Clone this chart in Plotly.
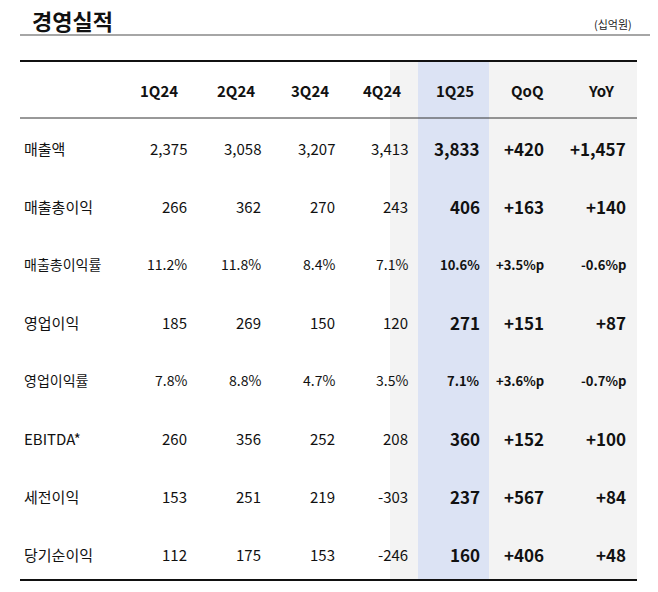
import plotly.graph_objects as go

headers = ["1Q24", "2Q24", "3Q24", "4Q24", "1Q25", "QoQ", "YoY"]
rows = ["매출액", "매출총이익", "매출총이익률", "영업이익", "영업이익률", "EBITDA*", "세전이익", "당기순이익"]
q1_24 = ["2,375", "266", "11.2%", "185", "7.8%", "260", "153", "112"]
q2_24 = ["3,058", "362", "11.8%", "269", "8.8%", "356", "251", "175"]
q3_24 = ["3,207", "270", "8.4%", "150", "4.7%", "252", "219", "153"]
q4_24 = ["3,413", "243", "7.1%", "120", "3.5%", "208", "-303", "-246"]
q1_25 = ["3,833", "406", "10.6%", "271", "7.1%", "360", "237", "160"]
qoq = ["+420", "+163", "+3.5%p", "+151", "+3.6%p", "+152", "+567", "+406"]
yoy = ["+1,457", "+140", "-0.6%p", "+87", "-0.7%p", "+100", "+84", "+48"]
cols = [q1_24, q2_24, q3_24, q4_24, q1_25, qoq, yoy]

col_right = [189, 263, 337, 410, 482, 546, 628]
col_center = [159, 236, 310, 382, 455, 527, 601]
font = "Noto Sans CJK KR"

fig = go.Figure()
shapes = [
    dict(type="rect", x0=390, x1=637, y0=62, y1=580, fillcolor="#f3f3f3", line_width=0, layer="below"),
    dict(type="rect", x0=418, x1=489, y0=62, y1=580, fillcolor="#dce3f4", line_width=0, layer="below"),
    dict(type="line", x0=20, x1=666, y0=35, y1=35, line=dict(color="#888", width=1.5)),
    dict(type="line", x0=20, x1=637, y0=61, y1=61, line=dict(color="#111", width=2)),
    dict(type="line", x0=20, x1=637, y0=118, y1=118, line=dict(color="#333", width=1)),
    dict(type="line", x0=20, x1=637, y0=580, y1=580, line=dict(color="#111", width=2)),
]
ann = [
    dict(x=30, y=20, text="<b>경영실적</b>", xanchor="left", font=dict(size=22, color="#111", family=font)),
    dict(x=634, y=24, text="(십억원)", xanchor="right", font=dict(size=11, color="#222", family=font)),
]
for h, c in zip(headers, col_center):
    ann.append(dict(x=c, y=90, text="<b>%s</b>" % h, xanchor="center", font=dict(size=15, color="#111", family=font)))
for i, r in enumerate(rows):
    y = 148 + 58 * i
    small = "률" in r
    ann.append(dict(x=22, y=y, text=r, xanchor="left", font=dict(size=15 if not small else 14, color="#111", family=font)))
    for j, col in enumerate(cols):
        v = col[i]
        bold = j >= 4
        size = 15
        if bold:
            size = 13 if small else 17
        elif small:
            size = 14
        t = "<b>%s</b>" % v if bold else v
        ann.append(dict(x=col_right[j], y=y, text=t, xanchor="right", font=dict(size=size, color="#111", family=font)))
for a in ann:
    a.update(xref="x", yref="y", showarrow=False, yanchor="middle")

fig.update_layout(width=658, height=592, margin=dict(l=0, r=0, t=0, b=0),
                  plot_bgcolor="white", paper_bgcolor="white",
                  xaxis=dict(range=[8, 666], visible=False, fixedrange=True),
                  yaxis=dict(range=[600, 8], visible=False, fixedrange=True),
                  shapes=shapes, annotations=ann, showlegend=False)
fig.write_html("out.html")
